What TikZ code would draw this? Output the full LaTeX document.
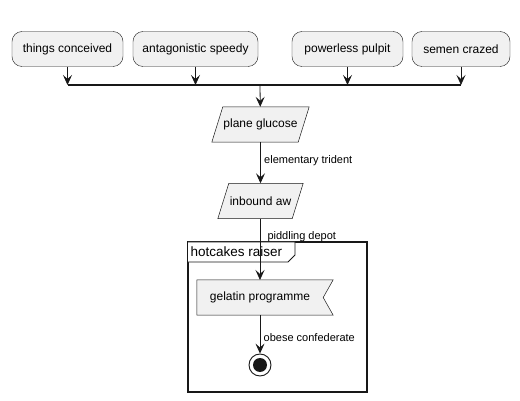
\documentclass[tikz,border=0pt]{standalone}
\usepackage{fontspec}
\setmainfont{Liberation Sans}
\usetikzlibrary{arrows.meta,calc,positioning,shapes.geometric}
\definecolor{boxFill}{HTML}{F1F1F1}
\definecolor{lineDark}{HTML}{181818}

\begin{document}
\begin{tikzpicture}[
  x=1pt,y=-1pt,
  font=\fontsize{12}{14}\selectfont,
  act/.style={draw=lineDark,fill=boxFill,rounded corners=10pt,minimum height=35pt,inner sep=0pt},
  geom/.style={minimum height=35pt,inner sep=0pt},
  shp/.style={draw=lineDark,fill=boxFill,line width=.5pt},
  flow/.style={draw=lineDark,line width=.8pt,-{Stealth[length=10pt,width=9pt,inset=4pt]}},
  lbl/.style={anchor=west,font=\fontsize{11}{13}\selectfont}
]
  \useasboundingbox (0,0) rectangle (520,401);

  % start activities
  \foreach \nm/\cx/\w/\txt in {
    tc/67.5/111/things conceived,
    as/195.5/125/antagonistic speedy,
    pp/347.5/111/powerless pulpit,
    sc/461/98/semen crazed
  } {
    \node[act,minimum width=\w pt] (\nm) at (\cx,49) {\txt};
    \coordinate (\nm j) at (\cx,85);
    \draw[flow] (\nm) -- (\nm j);
  }
  \draw[lineDark,line width=1.6pt] (tcj) -- (scj);
  \coordinate (joinout) at (260,85);

  % input parallelograms
  \foreach \nm/\cy/\w/\txt in {
    pg/124.5/97/plane glucose,
    ia/201/85/inbound aw
  } {
    \node[geom,minimum width=\w pt] (\nm) at (260.5,\cy) {};
    \draw[shp] (\nm.south west) -- ($(\nm.north west)+(11,0)$) -- (\nm.north east)
      -- ($(\nm.south east)+(-11,0)$) -- cycle;
    \node at (\nm) {\txt};
  }
  \draw[flow] (joinout) -- (pg);
  \draw[flow] (pg) -- (ia) node[lbl,pos=.45] {elementary trident};

  % partition
  \draw[lineDark,line width=1.2pt] (188,242) rectangle (367,392);
  \draw[lineDark,line width=.9pt,fill=white] (188,242) -- (295,242) -- (295,255) -- (288,262) -- (188,262);
  \node[anchor=west,inner sep=0pt,font=\fontsize{13.5}{15}\selectfont] (part) at (190.5,252) {hotcakes raiser};

  \node[geom,minimum width=136pt] (gp) at (265,297.5) {};
  \draw[shp] (gp.north west) -- (gp.north east) -- ($(gp.east)+(-10,0)$) -- (gp.south east) -- (gp.south west) -- cycle;
  \node at ($(gp.center)+(-5,0)$) {gelatin programme};
  \coordinate (gpin) at (260,280);
  \coordinate (gpout) at (260,315);
  \draw[flow] (ia.south -| gpin) -- (gpin);
  \node[lbl] at (264,237) {piddling depot};

  \node[circle,draw=lineDark,fill=white,line width=.9pt,minimum size=22pt,inner sep=0pt] (stop) at (260,365) {};
  \node[circle,fill=lineDark,minimum size=14pt,inner sep=0pt] at (stop) {};
  \draw[flow] (gpout) -- (stop) node[lbl,midway,yshift=-3pt] {obese confederate};
\end{tikzpicture}
\end{document}
